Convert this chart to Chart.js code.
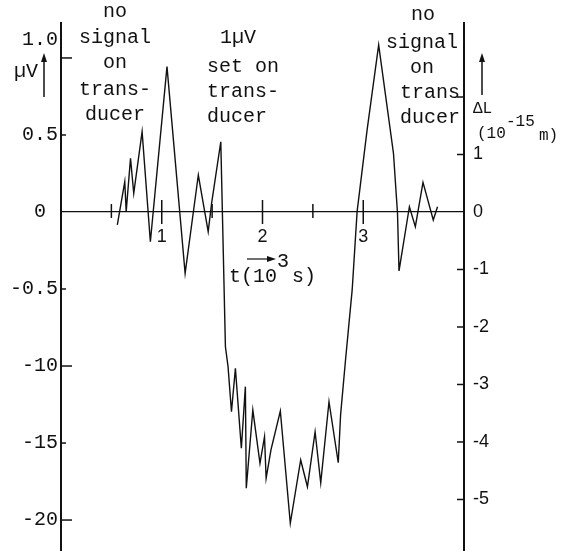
<!DOCTYPE html>
<html>
<head>
<meta charset="utf-8">
<script src="https://cdn.jsdelivr.net/npm/chart.js@4/dist/chart.umd.min.js"></script>
<style>
  html, body { margin: 0; padding: 0; background: #fff; }
  canvas { display: block; }
</style>
</head>
<body>
<canvas id="c" width="574" height="551"></canvas>
<script>
// ---- data (t in 10^3 s, signal in µV) ----
const times = [0.559, 0.633, 0.647, 0.690, 0.722, 0.805, 0.887, 1.052, 1.232, 1.363,
  1.461, 1.495, 1.586, 1.632, 1.658, 1.692, 1.731, 1.790, 1.830, 1.839,
  1.904, 1.975, 2.020, 2.036, 2.084, 2.177, 2.276, 2.379, 2.446, 2.522,
  2.578, 2.660, 2.752, 2.775, 2.824, 2.890, 2.939, 3.038, 3.153, 3.300,
  3.340, 3.355, 3.458, 3.517, 3.593, 3.695, 3.737];
const microvolts = [-0.084, 0.197, 0.002, 0.349, 0.121, 0.521, -0.193, 0.944, -0.398, 0.240,
  -0.128, 0.058, 0.456, -0.875, -1.004, -1.297, -1.015, -1.534, -1.134, -1.794,
  -1.286, -1.632, -1.459, -1.729, -1.545, -1.292, -2.021, -1.610, -1.784, -1.427,
  -1.758, -1.232, -1.628, -1.318, -0.961, -0.506, 0.002, 0.532, 1.084, 0.381,
  -0.008, -0.383, 0.034, -0.095, 0.192, -0.052, 0.034];

const leftTickValues = [1.0, 0.5, 0, -0.5, -1.0, -1.5, -2.0];
const leftTickLabels = ["1.0", "0.5", "0 ", "-0.5", "-10", "-15", "-20"];
const rightTickValues = [2, 1, 0, -1, -2, -3, -4, -5];
const rightTickLabels = ["", "1", "0", "-1", "-2", "-3", "-4", "-5"];
const timeTickValues = [0.5, 1, 1.5, 2, 2.5, 3];
const timeTickLabels = ["", "1", "", "2", "", "3"];

const ink = '#111';
const mono = '"Liberation Mono", "DejaVu Sans Mono", monospace';
const sans = '"Liberation Sans", "DejaVu Sans", sans-serif';

const points = times.map((t, i) => ({ x: t, y: microvolts[i] }));

function setTicks(values) {
  return scale => { scale.ticks = values.map(v => ({ value: v })); };
}
function zeroPad(width) {
  return scale => {
    if (width !== undefined) scale.width = width;
    scale.paddingTop = 0; scale.paddingBottom = 0;
    scale.paddingLeft = 0; scale.paddingRight = 0;
  };
}

const overlay = {
  id: 'overlay',
  afterDraw(chart) {
    const { ctx, scales } = chart;
    const xs = scales.x, yl = scales.y, yr = scales.y1;
    ctx.save();
    ctx.strokeStyle = ink;
    ctx.fillStyle = ink;
    ctx.lineWidth = 1.5;
    const line = (x1, y1, x2, y2) => { ctx.beginPath(); ctx.moveTo(x1, y1); ctx.lineTo(x2, y2); ctx.stroke(); };

    // inward ticks on left axis
    leftTickValues.forEach(v => {
      if (v === 0) return;
      const py = yl.getPixelForValue(v);
      const len = Number.isInteger(v) ? 11 : 5;
      line(yl.right, py, yl.right + len, py);
    });
    // inward ticks on right axis
    rightTickValues.forEach(v => {
      if (v === 0) return;
      const py = yr.getPixelForValue(v);
      line(yr.left - 7, py, yr.left, py);
    });
    // crossing ticks on the time axis
    const py0 = yl.getPixelForValue(0);
    timeTickValues.forEach(v => {
      const px = xs.getPixelForValue(v);
      const major = Number.isInteger(v);
      line(px, py0 - (major ? 12 : 8), px, py0 + (major ? 12 : 6));
    });

    // arrows
    const arrowUp = (x, yTop, yBot) => {
      line(x, yBot, x, yTop + 6);
      ctx.beginPath(); ctx.moveTo(x, yTop); ctx.lineTo(x - 3, yTop + 9); ctx.lineTo(x + 3, yTop + 9); ctx.closePath(); ctx.fill();
    };
    const arrowRight = (xL, xR, y) => {
      ctx.lineWidth = 1.2;
      line(xL, y, xR - 6, y);
      ctx.beginPath(); ctx.moveTo(xR, y); ctx.lineTo(xR - 9, y - 3); ctx.lineTo(xR - 9, y + 3); ctx.closePath(); ctx.fill();
      ctx.lineWidth = 1.5;
    };
    arrowUp(44, 53, 97);
    arrowUp(482, 53, 95);
    arrowRight(247, 276, 259);

    // annotations
    ctx.textBaseline = 'middle';
    ctx.textAlign = 'center';
    ctx.font = '20px ' + mono;
    const block = (x, lines, ys) => lines.forEach((s, i) => ctx.fillText(s, x, ys[i]));
    block(115, ["no", "signal", "on", "trans-", "ducer"], [12, 38, 63, 90, 115]);
    ctx.fillText("1µV", 238, 38);
    ctx.fillText("set on", 243, 67);
    ctx.fillText("trans-", 243, 92);
    ctx.fillText("ducer", 237, 117);
    ctx.fillText("no", 423, 15);
    ctx.fillText("signal", 422, 43);
    ctx.fillText("on", 422, 68);
    ctx.textAlign = 'right';
    ctx.fillText("trans", 460, 93);
    ctx.fillText("ducer", 460, 118);

    ctx.textAlign = 'left';
    ctx.fillText("µV", 14, 72);
    ctx.fillText("t(10", 229, 277);
    ctx.fillText("3", 277, 262);
    ctx.fillText("s)", 292, 277);

    ctx.font = '16px ' + mono;
    ctx.fillText("ΔL", 473, 109);
    ctx.fillText("(10", 477, 134);
    ctx.fillText("-15", 506, 122);
    ctx.fillText("m)", 539, 136);
    ctx.restore();
  }
};

new Chart(document.getElementById('c'), {
  type: 'line',
  data: {
    datasets: [{
      data: points,
      borderColor: ink,
      borderWidth: 1.4,
      pointRadius: 0,
      tension: 0,
      fill: false
    }]
  },
  options: {
    responsive: false,
    devicePixelRatio: 1,
    animation: false,
    events: [],
    layout: { padding: { top: 23, left: 0, right: 0, bottom: 0 } },
    plugins: { legend: { display: false }, tooltip: { enabled: false } },
    scales: {
      x: {
        type: 'linear',
        min: 0, max: 4,
        position: { y: 0 },
        afterBuildTicks: setTicks(timeTickValues),
        afterFit: zeroPad(),
        grid: { display: false, drawTicks: false },
        border: { display: true, color: ink, width: 1.3 },
        ticks: {
          autoSkip: false, maxRotation: 0, padding: 14,
          color: ink, font: { family: sans, size: 18 },
          callback: (v, i) => timeTickLabels[i]
        }
      },
      y: {
        type: 'linear',
        position: 'left',
        min: -2.201, max: 1.227,
        afterBuildTicks: setTicks(leftTickValues),
        afterFit: zeroPad(61),
        grid: { display: false, drawTicks: false },
        border: { display: true, color: ink, width: 2 },
        ticks: {
          autoSkip: false, padding: 3,
          color: ink,
          font: c => ({ family: mono, size: 20, lineHeight: c.index === 0 ? 1.8 : 1.2 }),
          callback: (v, i) => (i === 0 ? [leftTickLabels[i], ""] : leftTickLabels[i])
        }
      },
      y1: {
        type: 'linear',
        position: 'right',
        min: -5.896, max: 3.287,
        afterBuildTicks: setTicks(rightTickValues),
        afterFit: zeroPad(110),
        grid: { display: false, drawTicks: false },
        border: { display: true, color: ink, width: 2 },
        ticks: {
          autoSkip: false, padding: 9,
          color: ink, font: { family: sans, size: 18 },
          callback: (v, i) => rightTickLabels[i]
        }
      }
    }
  },
  plugins: [overlay]
});
</script>
</body>
</html>
